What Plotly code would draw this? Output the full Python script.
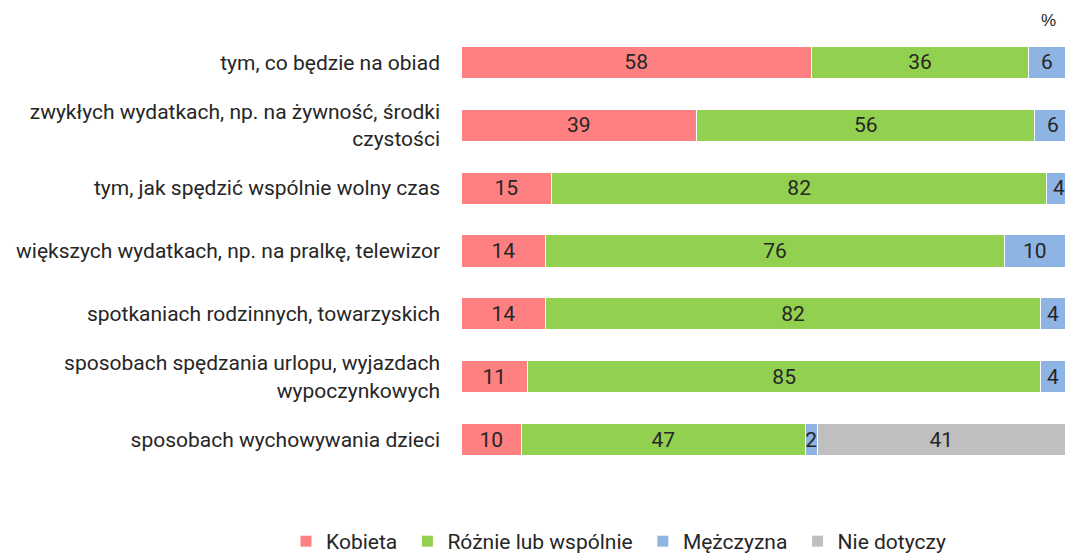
import plotly.graph_objects as go

categories = [
    "tym, co będzie na obiad",
    "zwykłych wydatkach, np. na żywność, środki<br>czystości",
    "tym, jak spędzić wspólnie wolny czas",
    "większych wydatkach, np. na pralkę, telewizor",
    "spotkaniach rodzinnych, towarzyskich",
    "sposobach spędzania urlopu, wyjazdach<br>wypoczynkowych",
    "sposobach wychowywania dzieci",
]
kobieta = [58, 39, 15, 14, 14, 11, 10]
roznie = [36, 56, 82, 76, 82, 85, 47]
mezczyzna = [6, 6, 4, 10, 4, 4, 2]
nie_dotyczy = [0, 0, 0, 0, 0, 0, 41]

series = [
    ("Kobieta", kobieta, "#FF8080"),
    ("Różnie lub wspólnie", roznie, "#92D050"),
    ("Mężczyzna", mezczyzna, "#8DB4E2"),
    ("Nie dotyczy", nie_dotyczy, "#BFBFBF"),
]

FS = 21
L, T, B, W, H = 461, 31, 82, 1065, 553
PW, PH = W - L, H - T - B

fig = go.Figure()
for name, vals, color in series:
    fig.add_trace(go.Bar(
        name=name + "\u00a0",
        y=categories,
        x=vals,
        orientation="h",
        marker=dict(color=color, line=dict(color="white", width=1)),
        text=[str(v) if v else "" for v in vals],
        textposition="inside",
        insidetextanchor="middle",
        constraintext="none",
        textfont=dict(family="Roboto", size=FS, color="#262626"),
        width=0.51,
        hoverinfo="skip",
    ))

fig.update_layout(
    barmode="stack",
    width=W,
    height=H,
    margin=dict(l=L, r=0, t=T, b=B, autoexpand=False),
    paper_bgcolor="white",
    plot_bgcolor="white",
    font=dict(family="Roboto", size=FS, color="#262626"),
    showlegend=True,
    legend=dict(
        orientation="h",
        x=(286 - L) / PW,
        xanchor="left",
        y=-(521 - (T + PH)) / PH,
        yanchor="top",
        font=dict(family="Roboto", size=FS, color="#262626"),
        itemwidth=30,
        traceorder="normal",
        itemclick=False,
    ),
    xaxis=dict(range=[0, 100], visible=False, fixedrange=True),
    yaxis=dict(
        autorange="reversed",
        showgrid=False,
        showline=False,
        ticks="",
        ticklabelstandoff=20,
        tickfont=dict(family="Roboto", size=FS, color="#262626"),
        fixedrange=True,
    ),
    annotations=[dict(
        text="%", x=(1048 - L) / PW, xref="paper", xanchor="center",
        y=1 + (T - 20) / PH, yref="paper", yanchor="middle",
        showarrow=False, font=dict(family="Liberation Sans", size=17, color="#262626"),
    )],
)

fig.write_html(
    "out.html",
    config={"displayModeBar": False},
    post_script="document.body.style.margin='0';",
)
